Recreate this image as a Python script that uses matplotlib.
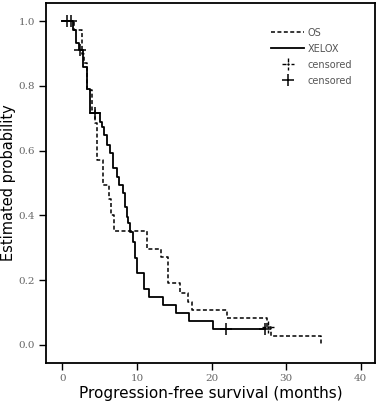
import numpy as np
import matplotlib
matplotlib.use("Agg")
import matplotlib.pyplot as plt
from matplotlib.path import Path
from matplotlib.lines import Line2D

# Kaplan-Meier step points (time in months, survival after step)
xelox_t = [0, 1.4, 1.8, 2.2, 2.75, 3.3, 3.7, 5.0, 5.26, 5.57, 5.93, 6.38, 6.82, 7.28,
           7.62, 8.08, 8.39, 8.62, 8.83, 9.06, 9.42, 9.73, 9.96, 10.94, 11.6, 13.45,
           15.2, 17.0, 20.2, 27.2]
xelox_s = [1.0, 0.974, 0.932, 0.91, 0.858, 0.79, 0.716, 0.69, 0.673, 0.648, 0.617, 0.593,
           0.546, 0.518, 0.494, 0.469, 0.426, 0.395, 0.377, 0.349, 0.318, 0.269, 0.222,
           0.173, 0.148, 0.123, 0.10, 0.074, 0.049, 0.049]
xelox_cens = [0.6, 1.2, 2.35, 4.35, 21.9, 27.2]

os_t = [0, 1.5, 2.6, 2.9, 3.25, 4.0, 4.35, 4.6, 5.48, 6.2, 6.5, 6.9, 11.3, 13.2, 14.2,
        15.8, 16.8, 17.4, 22.0, 27.4, 27.9, 34.6]
os_s = [1.0, 0.974, 0.90, 0.87, 0.787, 0.725, 0.685, 0.571, 0.494, 0.45, 0.40, 0.353,
        0.295, 0.27, 0.192, 0.161, 0.134, 0.108, 0.082, 0.055, 0.028, 0.0]
os_cens = [27.6]

x_ticks = [0, 10, 20, 30, 40]
y_ticks = [0.0, 0.2, 0.4, 0.6, 0.8, 1.0]


def surv_at(ts, ss, t):
    idx = np.searchsorted(ts, t, side="right") - 1
    return ss[idx]


# dashed cross used for OS censor marks
dcross = Path([(0, 1), (0, 0.45), (0, 0.15), (0, -0.2), (0, -0.5), (0, -1),
               (-1, 0), (-0.45, 0), (-0.15, 0), (0.2, 0), (0.5, 0), (1, 0)],
              [Path.MOVETO, Path.LINETO, Path.MOVETO, Path.LINETO, Path.MOVETO, Path.LINETO,
               Path.MOVETO, Path.LINETO, Path.MOVETO, Path.LINETO, Path.MOVETO, Path.LINETO])

fig = plt.figure(figsize=(3.79, 4.07), dpi=100)
ax = fig.add_axes([0.1214, 0.108, 0.868, 0.8846])

dash = (0, (2.6, 1.6))
ax.step(os_t, os_s, where="post", color="black", lw=1.1, linestyle=dash)
ax.step(xelox_t, xelox_s, where="post", color="black", lw=1.3)

ax.plot(xelox_cens, [surv_at(xelox_t, xelox_s, c) for c in xelox_cens], linestyle="none",
        marker="+", ms=8, mew=1.1, color="black")
ax.plot(os_cens, [surv_at(os_t, os_s, c) for c in os_cens], linestyle="none",
        marker=dcross, ms=8, mew=1.0, color="black")

ax.set_xlim(-2.2, 41.9)
ax.set_ylim(-0.056, 1.056)
ax.set_xticks(x_ticks)
ax.set_yticks(y_ticks)
ax.set_yticklabels(["%.1f" % v for v in y_ticks])
ax.tick_params(direction="out", length=5, width=1.0, colors="black", labelcolor="#666666",
               labelsize=7.5, pad=3)
for lab in ax.get_xticklabels() + ax.get_yticklabels():
    lab.set_fontfamily("DejaVu Serif")
for sp in ax.spines.values():
    sp.set_linewidth(1.3)

ax.set_xlabel("Progression-free survival (months)", fontsize=11, labelpad=2)
ax.set_ylabel("Estimated probability", fontsize=10.5, labelpad=2)

handles = [
    Line2D([], [], color="black", lw=1.1, linestyle=dash),
    Line2D([], [], color="black", lw=1.3),
    Line2D([], [], linestyle="none", marker=dcross, ms=8, mew=1.0, color="black"),
    Line2D([], [], linestyle="none", marker="+", ms=9, mew=1.1, color="black"),
]
ax.legend(handles, ["OS", "XELOX", "censored", "censored"], loc="upper left",
          bbox_to_anchor=(0.67, 0.945), frameon=False, fontsize=7, labelcolor="#555555",
          handlelength=3.4, handletextpad=0.35, labelspacing=0.62, borderpad=0)

fig.savefig("out.png", dpi=100)
